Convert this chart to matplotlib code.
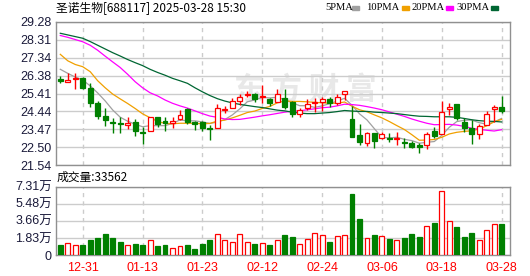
import numpy as np
import matplotlib.pyplot as plt
from matplotlib.patches import Rectangle

# daily candles, 2024-12-26 .. 2025-03-28
open_ = np.array([26.20, 26.05, 26.18, 26.25, 25.71, 24.88, 24.19, 23.87, 23.83, 23.72,
                  23.87, 23.35, 23.37, 24.12, 23.92, 23.80, 24.05, 24.56, 23.89, 23.89,
                  23.56, 23.53, 24.52, 24.64, 25.02, 25.33, 25.40, 25.21, 25.13, 24.97,
                  25.18, 24.93, 24.30, 24.64, 24.88, 24.97, 25.11, 24.91, 25.37, 24.03,
                  23.16, 22.75, 23.25, 22.98, 23.02, 22.93, 22.77, 22.72, 22.61, 22.61,
                  23.40, 23.20, 24.56, 24.84, 23.87, 23.53, 23.20, 23.71, 24.56, 24.66])
high = np.array([26.36, 26.50, 26.54, 26.32, 25.96, 25.01, 24.63, 24.09, 24.16, 24.12,
                 24.01, 23.61, 24.12, 24.15, 24.15, 24.12, 24.52, 24.61, 23.92, 23.92,
                 23.71, 24.84, 24.75, 25.15, 25.38, 25.55, 25.44, 25.87, 25.17, 25.64,
                 25.64, 25.02, 24.61, 25.09, 25.15, 25.24, 25.24, 25.38, 25.55, 24.73,
                 23.74, 23.34, 23.29, 23.34, 23.25, 23.34, 22.98, 22.86, 22.75, 23.34,
                 23.58, 25.00, 24.88, 24.84, 24.07, 23.98, 23.76, 24.48, 24.79, 25.28])
low = np.array([26.00, 26.05, 25.64, 25.64, 24.70, 24.05, 23.65, 23.26, 23.29, 23.51,
                23.11, 22.68, 23.37, 23.60, 23.38, 23.53, 23.98, 23.74, 23.44, 23.38,
                22.89, 23.53, 24.34, 24.61, 24.79, 25.21, 24.97, 24.88, 24.73, 24.97,
                24.56, 24.16, 24.16, 24.49, 24.43, 24.48, 24.66, 24.77, 25.06, 23.07,
                22.64, 22.57, 22.45, 22.93, 22.80, 22.62, 22.45, 22.45, 22.21, 22.39,
                22.98, 23.20, 24.25, 23.98, 23.34, 22.68, 22.93, 23.71, 23.89, 24.34])
close = np.array([26.10, 26.14, 26.25, 25.71, 24.91, 24.19, 23.99, 23.80, 23.78, 23.81,
                  23.37, 23.29, 24.12, 23.76, 23.83, 23.94, 24.25, 23.89, 23.76, 23.53,
                  23.51, 24.61, 24.59, 25.00, 25.21, 25.40, 25.10, 25.28, 24.88, 25.37,
                  24.70, 24.30, 24.52, 24.84, 24.95, 25.11, 24.88, 25.24, 25.55, 23.07,
                  22.80, 23.25, 22.85, 23.20, 22.95, 22.99, 22.72, 22.50, 22.50, 23.20,
                  23.13, 24.39, 24.66, 24.07, 23.53, 23.22, 23.65, 24.29, 24.66, 24.48])
# volume in 万
vol = np.array([1.07, 1.29, 1.07, 1.07, 1.61, 1.82, 2.25, 1.82, 1.39, 1.07,
                1.18, 1.07, 1.61, 0.96, 1.04, 0.71, 0.93, 1.07, 0.64, 1.18,
                1.61, 2.25, 1.61, 1.39, 2.25, 1.39, 1.18, 1.29, 1.07, 1.61,
                2.14, 1.93, 1.18, 1.68, 2.36, 2.14, 1.43, 2.04, 2.14, 6.54,
                3.86, 1.79, 2.14, 2.04, 1.71, 1.61, 1.82, 2.25, 1.93, 3.07,
                3.43, 6.82, 3.61, 3.00, 1.93, 2.36, 1.61, 2.64, 3.32, 3.3562])

ma5 = [26.72, 26.50, 26.30, 26.14, 25.82, 25.44, 25.01, 24.52, 24.13, 23.91,
       23.75, 23.61, 23.67, 23.67, 23.67, 23.79, 23.98, 23.93, 23.93, 23.87,
       23.79, 23.86, 24.00, 24.25, 24.58, 24.96, 25.06, 25.20, 25.17, 25.21,
       25.07, 24.91, 24.75, 24.75, 24.66, 24.74, 24.86, 25.00, 25.15, 24.77,
       24.31, 23.98, 23.50, 23.03, 23.01, 23.04, 22.93, 22.86, 22.72, 22.77,
       22.81, 23.14, 23.58, 23.89, 23.96, 23.97, 23.83, 23.75, 23.87, 24.06]
ma10 = [27.53, 27.18, 26.98, 26.86, 26.59, 26.10, 25.72, 25.38, 25.12, 24.87,
        24.60, 24.31, 24.10, 23.90, 23.79, 23.77, 23.80, 23.80, 23.80, 23.77,
        23.79, 23.92, 23.97, 24.09, 24.23, 24.38, 24.46, 24.60, 24.71, 24.90,
        25.01, 24.98, 24.98, 24.96, 24.93, 24.91, 24.88, 24.88, 24.95, 24.72,
        24.53, 24.42, 24.25, 24.09, 23.89, 23.67, 23.46, 23.18, 22.88, 22.89,
        22.92, 23.04, 23.22, 23.31, 23.36, 23.39, 23.49, 23.66, 23.88, 24.01]
ma20 = [28.55, 28.45, 28.33, 28.21, 28.02, 27.75, 27.43, 27.12, 26.82, 26.45,
        26.05, 25.72, 25.45, 25.28, 25.06, 24.88, 24.74, 24.62, 24.47, 24.32,
        24.19, 24.12, 24.03, 24.00, 24.01, 24.07, 24.13, 24.20, 24.26, 24.33,
        24.40, 24.45, 24.47, 24.53, 24.58, 24.64, 24.67, 24.74, 24.83, 24.81,
        24.77, 24.70, 24.62, 24.53, 24.41, 24.29, 24.17, 24.03, 23.91, 23.80,
        23.72, 23.73, 23.74, 23.70, 23.63, 23.53, 23.47, 23.42, 23.38, 23.45]
ma30 = [28.67, 28.58, 28.49, 28.40, 28.22, 28.02, 27.82, 27.62, 27.44, 27.25,
        27.08, 26.92, 26.72, 26.55, 26.40, 26.23, 26.10, 25.96, 25.72, 25.50,
        25.30, 25.13, 25.00, 24.90, 24.82, 24.76, 24.70, 24.65, 24.58, 24.51,
        24.47, 24.40, 24.35, 24.32, 24.32, 24.35, 24.38, 24.43, 24.49, 24.46,
        24.44, 24.44, 24.40, 24.38, 24.35, 24.32, 24.27, 24.22, 24.18, 24.17,
        24.15, 24.15, 24.15, 24.12, 24.06, 23.99, 23.94, 23.91, 23.90, 23.87]

tick_idx = [3, 11, 19, 27, 35, 43, 51, 59]
tick_dates = ['12-31', '01-13', '01-23', '02-12', '02-24', '03-06', '03-18', '03-28']
price_labels = ['21.54', '22.50', '23.47', '24.44', '25.41', '26.38', '27.34', '28.31', '29.28']
vol_labels = ['0', '1.83万', '3.66万', '5.48万', '7.31万']

RED, GREEN = '#ff0000', '#008000'
W, H = 530, 276
fig = plt.figure(figsize=(W / 100, H / 100), dpi=100)
ax = fig.add_axes([56 / W, 1 - 165 / H, 454 / W, 143 / H])
ax2 = fig.add_axes([56 / W, 1 - 255 / H, 454 / W, 68.5 / H])

idx = np.arange(len(close))
up = close >= open_
edge = np.where(up, RED, GREEN)
face = np.where(up, 'white', GREEN)

# candles
ax.vlines(idx, low, high, colors=edge, lw=1, zorder=3)
body = np.maximum(np.abs(close - open_), 0.015)
ax.bar(idx, body, bottom=np.minimum(open_, close), width=0.66,
       color=face, edgecolor=edge, linewidth=0.9, zorder=4)

ax.plot(idx, ma5, color='#a0a0a0', lw=0.9, zorder=2)
ax.plot(idx, ma10, color='#f0a000', lw=0.9, zorder=2)
ax.plot(idx, ma20, color='#ff00ff', lw=0.9, zorder=2)
ax.plot(idx, ma30, color='#006633', lw=0.9, zorder=2)

# watermark
ax.text(0.55, 0.53, '东 方 财 富', transform=ax.transAxes, ha='center', va='center',
        fontsize=22, fontweight='bold', color='#e8e8e8', zorder=0,
        family=['Noto Sans CJK SC'])

# volume
ax2.bar(idx, vol, width=0.66, color=face, edgecolor=edge, linewidth=0.9, zorder=3)

for a in (ax, ax2):
    a.set_xlim(-0.575, 60.12)
    a.set_xticks(tick_idx)
    a.grid(axis='y', color='#cccccc', lw=1, zorder=0)
    a.grid(axis='x', color='#cccccc', lw=1, ls=(0, (3, 3)), zorder=0)
    a.tick_params(length=0, pad=3)
    for s in a.spines.values():
        s.set_color('#909090')
        s.set_linewidth(1)

ax.set_ylim(21.54, 29.28)
ax.set_yticks(np.linspace(21.54, 29.28, 9))
ax.set_yticklabels(price_labels, fontsize=9, color='#1a1a3a', family='Liberation Sans')
ax.set_xticklabels([])

ax2.set_ylim(0, 7.31)
ax2.set_yticks(np.linspace(0, 7.31, 5))
ax2.set_yticklabels(vol_labels, fontsize=9, color='#1a1a3a',
                    family=['Liberation Sans', 'Noto Sans CJK SC'])
ax2.set_xticklabels(tick_dates, fontsize=9, color=RED, family='Liberation Sans')
ax2.tick_params(axis='x', pad=5)

fig.text(56 / W, 1 - 8.3 / H, '圣诺生物[688117] 2025-03-28 15:30', fontsize=8.5,
         va='center', family=['Noto Sans CJK SC', 'DejaVu Sans'])
fig.text(57 / W, 1 - 177 / H, '成交量:33562', fontsize=8.5, va='center',
         family=['Noto Sans CJK SC', 'DejaVu Sans'])

legend = [('5PMA', '#a0a0a0', 325, 352), ('10PMA', '#f0a000', 366, 402),
          ('20PMA', '#ff00ff', 411, 446), ('30PMA', '#006633', 456, 491)]
for name, col, tx, sx in legend:
    fig.text(tx / W, 1 - 8 / H, name, fontsize=7.6, va='center', family='Liberation Serif')
    fig.patches.append(Rectangle((sx / W, 1 - 9.5 / H), 6.5 / W, 3.5 / H,
                                 transform=fig.transFigure, color=col))

fig.savefig('out.png', dpi=100)
